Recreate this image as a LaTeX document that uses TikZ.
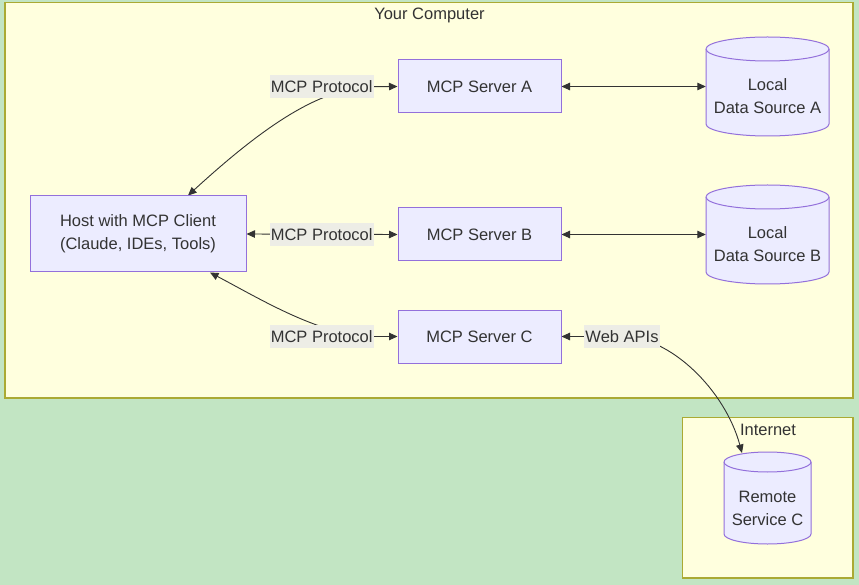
\documentclass[tikz,border=0pt]{standalone}
\usepackage{fontspec}
\setmainfont{Liberation Sans}
\usetikzlibrary{arrows.meta,calc}
\definecolor{pagegreen}{HTML}{C2E5C3}
\definecolor{zonefill}{HTML}{FFFFDE}
\definecolor{zoneline}{HTML}{AAAA33}
\definecolor{boxfill}{HTML}{ECECFF}
\definecolor{boxline}{HTML}{9370DB}
\definecolor{ink}{HTML}{333333}
\definecolor{tagfill}{HTML}{EDEDE6}
\pgfdeclarelayer{zones}
\pgfdeclarelayer{edges}
\pgfsetlayers{zones,edges,main}

\begin{document}
\begin{tikzpicture}[x=1pt,y=-1pt,
  every node/.style={font=\fontsize{16.5}{23}\selectfont, text=ink},
  zone/.style={fill=zonefill, draw=zoneline, line width=1.3pt},
  proc/.style={rectangle, fill=boxfill, draw=boxline, line width=1pt, align=center, inner sep=0pt},
  db/.style={fill=boxfill, draw=boxline, line width=1pt},
  dbtext/.style={align=center, inner sep=0pt},
  tag/.style={fill=tagfill, inner xsep=1pt, inner ysep=0pt, minimum height=23pt},
  tip/.tip={Triangle[length=8.5pt,width=7.5pt]},
  link/.style={draw=ink, line width=0.9pt, tip-tip},
]
\useasboundingbox (0,0) rectangle (859,585);

% page and grouping areas
\begin{pgfonlayer}{zones}
  \fill[pagegreen] (0,0) rectangle (859,585);
  \draw[zone] (5,2.5) rectangle (853,398);
  \draw[zone] (682.5,417.5) rectangle (853,578);
\end{pgfonlayer}
\node (tYour) at (429.5,15.5) {Your Computer};
\node (tNet) at (768,430) {Internet};

% host and servers
\node[proc, minimum width=216pt, minimum height=76pt] (host) at (138,234)
  {Host with MCP Client\\(Claude, IDEs, Tools)};
\node[proc, minimum width=163pt, minimum height=53pt] (sA) at (479.5,86.5) {MCP Server A};
\node[proc, minimum width=163pt, minimum height=53pt] (sB) at (479.5,234.5) {MCP Server B};
\node[proc, minimum width=163pt, minimum height=53pt] (sC) at (479.5,336.5) {MCP Server C};

% data stores drawn as cylinders
\filldraw[db] (706,49) -- (706,124) arc[start angle=180,end angle=0,x radius=61.5,y radius=12]
  -- (829,49) arc[start angle=0,end angle=-180,x radius=61.5,y radius=12] -- cycle;
\draw[db] (829,49) arc[start angle=0,end angle=180,x radius=61.5,y radius=12];
\node[dbtext, minimum width=123pt, minimum height=60pt] (dsA) at (767.5,96.5) {Local\\Data Source A};

\filldraw[db] (706,197) -- (706,272) arc[start angle=180,end angle=0,x radius=61.5,y radius=12]
  -- (829,197) arc[start angle=0,end angle=-180,x radius=61.5,y radius=12] -- cycle;
\draw[db] (829,197) arc[start angle=0,end angle=180,x radius=61.5,y radius=12];
\node[dbtext, minimum width=123pt, minimum height=60pt] (dsB) at (767.5,244.5) {Local\\Data Source B};

\filldraw[db] (724,462) -- (724,534) arc[start angle=180,end angle=0,x radius=43.5,y radius=10]
  -- (811,462) arc[start angle=0,end angle=-180,x radius=43.5,y radius=10] -- cycle;
\draw[db] (811,462) arc[start angle=0,end angle=180,x radius=43.5,y radius=10];
\node[dbtext, minimum width=87pt, minimum height=60pt] (rem) at (767.5,508) {Remote\\Service C};
\coordinate (remIn) at (742,453);

% edge labels
\node[tag] (lA) at (321.7,86.7) {MCP Protocol};
\node[tag] (lB) at (321.7,234.5) {MCP Protocol};
\node[tag] (lC) at (321.7,336.5) {MCP Protocol};
\node[tag] (lW) at (622,336.5) {Web APIs};

% connectors
\begin{pgfonlayer}{edges}
  \draw[link] ($(host.north)+(50,0)$) .. controls (265,125) and (lA.center) .. (lA.east) -- (sA.west);
  \draw[link] (host.east) -- (sB.west);
  \draw[link] ($(host.south)+(72,0)$) .. controls (262,300) and (lC.center) .. (lC.east) -- (sC.west);
  \draw[link] (sA.east) -- (sA.east -| dsA.west);
  \draw[link] (sB.east) -- (sB.east -| dsB.west);
  \draw[link] (sC.east) -- (lW.center) .. controls (670,336) and (725,390) .. (remIn);
\end{pgfonlayer}
\end{tikzpicture}
\end{document}
